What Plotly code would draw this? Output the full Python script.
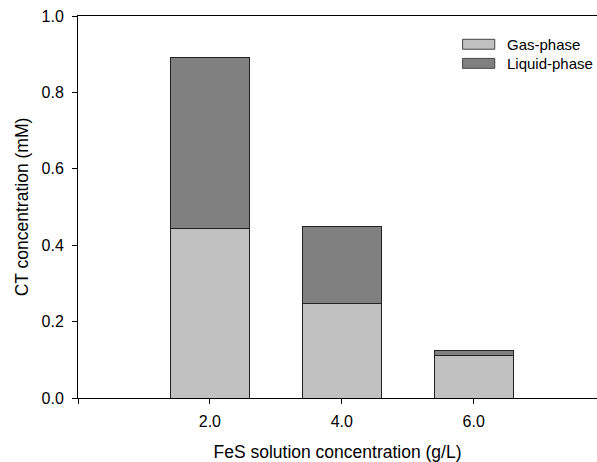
import plotly.graph_objects as go

fes_conc = [2.0, 4.0, 6.0]
gas_phase = [0.444, 0.247, 0.112]
liquid_phase = [0.448, 0.201, 0.012]
series_names = ["Gas-phase", "Liquid-phase"]
series_colors = ["#c0c0c0", "#808080"]
x_tickvals = [0, 2, 4, 6]
x_ticktext = ["", "2.0", "4.0", "6.0"]

FONT = "Liberation Sans, Arial, sans-serif"

fig = go.Figure()
for name, vals, col in zip(series_names, [gas_phase, liquid_phase], series_colors):
    fig.add_trace(go.Bar(
        x=fes_conc, y=vals, name=name, width=1.2,
        marker=dict(color=col, line=dict(color="#222222", width=1)),
        showlegend=False,
    ))

# manual legend (wide swatches like the original)
leg_y = [0.926, 0.876]
for i, (name, col) in enumerate(zip(series_names, series_colors)):
    fig.add_shape(type="rect", xref="paper", yref="paper",
                  x0=0.741, x1=0.803, y0=leg_y[i] - 0.013, y1=leg_y[i] + 0.013,
                  fillcolor=col, line=dict(color="#444444", width=1))
    fig.add_annotation(xref="paper", yref="paper", x=0.822, y=leg_y[i],
                       text=name, showarrow=False, xanchor="left", yanchor="middle",
                       font=dict(family=FONT, size=15, color="black"))

fig.update_layout(
    barmode="stack",
    width=597, height=462,
    margin=dict(l=78, r=0, t=16, b=64),
    paper_bgcolor="white", plot_bgcolor="white",
    font=dict(family=FONT, size=16, color="black"),
    xaxis=dict(
        range=[0, 7.87], tickvals=x_tickvals, ticktext=x_ticktext,
        ticks="outside", ticklen=5, tickcolor="black",
        showline=True, linecolor="black", linewidth=1, mirror=True,
        showgrid=False, zeroline=False, tickfont=dict(size=16),
        ticklabelstandoff=4,
        title=dict(text="FeS solution concentration (g/L)", font=dict(size=17.5), standoff=20),
    ),
    yaxis=dict(
        range=[0, 1.0], dtick=0.2, tickformat=".1f",
        ticks="outside", ticklen=5, tickcolor="black",
        showline=True, linecolor="black", linewidth=1,
        showgrid=False, zeroline=False, tickfont=dict(size=16),
        ticklabelstandoff=5,
        title=dict(text="CT concentration (mM)", font=dict(size=17.5), standoff=8),
    ),
)

fig.write_html("out.html")
